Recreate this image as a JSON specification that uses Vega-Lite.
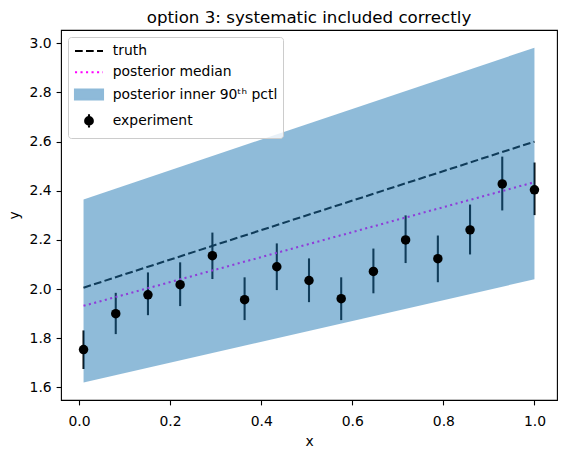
{
  "$schema": "https://vega.github.io/schema/vega-lite/v6.json",
  "autosize": {"type": "none"},
  "padding": {"left": 61, "top": 30, "right": 10, "bottom": 53},
  "width": 496,
  "height": 370,
  "background": "white",
  "title": {"text": "option 3: systematic included correctly", "fontSize": 16.67, "font": "DejaVu Sans", "fontWeight": "normal", "color": "black", "anchor": "middle", "frame": "group", "offset": -10, "baseline": "alphabetic"},
  "datasets": {
    "points": [
      {"x": 0.01, "y": 1.754, "lo": 1.675, "hi": 1.832},
      {"x": 0.0807, "y": 1.900, "lo": 1.817, "hi": 1.985},
      {"x": 0.1514, "y": 1.977, "lo": 1.894, "hi": 2.068},
      {"x": 0.2221, "y": 2.018, "lo": 1.931, "hi": 2.109},
      {"x": 0.2929, "y": 2.136, "lo": 2.041, "hi": 2.230},
      {"x": 0.3636, "y": 1.957, "lo": 1.874, "hi": 2.048},
      {"x": 0.4343, "y": 2.091, "lo": 1.996, "hi": 2.186},
      {"x": 0.5050, "y": 2.035, "lo": 1.947, "hi": 2.125},
      {"x": 0.5757, "y": 1.961, "lo": 1.874, "hi": 2.048},
      {"x": 0.6464, "y": 2.072, "lo": 1.983, "hi": 2.165},
      {"x": 0.7171, "y": 2.200, "lo": 2.106, "hi": 2.300},
      {"x": 0.7879, "y": 2.124, "lo": 2.028, "hi": 2.218},
      {"x": 0.8586, "y": 2.241, "lo": 2.141, "hi": 2.344},
      {"x": 0.9293, "y": 2.428, "lo": 2.320, "hi": 2.539},
      {"x": 1.0, "y": 2.404, "lo": 2.301, "hi": 2.515}
    ],
    "curves": [
      {"x": 0.01, "truth": 2.006, "median": 1.932, "lo": 1.620, "hi": 2.365},
      {"x": 1.0, "truth": 2.600, "median": 2.435, "lo": 2.040, "hi": 2.982}
    ]
  },
  "layer": [
    {
      "data": {"name": "points"},
      "mark": {"type": "rule", "strokeWidth": 2.08},
      "encoding": {
        "x": {"field": "x", "type": "quantitative", "scale": {"domain": [-0.0395, 1.0495], "nice": false, "zero": false},
              "axis": {"title": "x", "values": [0, 0.2, 0.4, 0.6, 0.8, 1.0], "format": ".1f", "labelPadding": 9.9}},
        "y": {"field": "lo", "type": "quantitative", "scale": {"domain": [1.549, 3.054], "nice": false, "zero": false},
              "axis": {"title": "y", "values": [1.6, 1.8, 2.0, 2.2, 2.4, 2.6, 2.8, 3.0], "format": ".1f", "titlePadding": 8}},
        "y2": {"field": "hi"},
        "color": {"datum": "experiment", "type": "nominal",
          "scale": {"domain": ["truth", "posterior median", "posterior inner 90ᵗʰ pctl", "experiment"], "range": ["black", "#ff00ff", "#1f77b4", "black"]},
          "legend": {
            "title": null, "orient": "top-left", "offset": 7, "padding": 5.5,
            "strokeColor": "#cccccc", "fillColor": "rgba(255,255,255,0.8)", "cornerRadius": 3,
            "labelFont": "DejaVu Sans", "labelFontSize": 13.9, "labelColor": "black", "labelLimit": 0,
            "symbolSize": 196, "labelOffset": 22.3, "rowPadding": 5.3,
            "encode": {"symbols": {"update": {
              "shape": {"signal": "datum.index <= 1 ? 'M-1,0H3' : datum.index == 2 ? 'M-1,-0.71H3V0.71H-1Z' : 'M1,-0.95V0.95M0.45,0A0.55,0.55 0 1,0 1.55,0A0.55,0.55 0 1,0 0.45,0'"},
              "fill": {"signal": "datum.index == 2 ? '#1f77b4' : datum.index == 3 ? 'black' : 'transparent'"},
              "stroke": {"signal": "datum.index == 0 ? 'black' : datum.index == 1 ? '#ff00ff' : datum.index == 3 ? 'black' : 'transparent'"},
              "strokeDash": {"signal": "datum.index == 0 ? [7.7, 3.3] : datum.index == 1 ? [2.08, 3.43] : []"},
              "strokeWidth": {"value": 2.08},
              "opacity": {"signal": "datum.index == 2 ? 0.5 : 1"},
              "fillOpacity": {"value": 1},
              "strokeOpacity": {"value": 1},
              "size": {"value": 196}
            }}}
          }}
      }
    },
    {
      "data": {"name": "curves"},
      "mark": {"type": "line", "strokeWidth": 2.08, "strokeDash": [7.7, 3.3], "strokeCap": "butt"},
      "encoding": {
        "x": {"field": "x", "type": "quantitative", "title": "x"},
        "y": {"field": "truth", "type": "quantitative", "title": "y"},
        "color": {"datum": "truth", "type": "nominal"}
      }
    },
    {
      "data": {"name": "curves"},
      "mark": {"type": "line", "strokeWidth": 2.08, "strokeDash": [2.08, 3.43], "strokeCap": "butt"},
      "encoding": {
        "x": {"field": "x", "type": "quantitative", "title": "x"},
        "y": {"field": "median", "type": "quantitative", "title": "y"},
        "color": {"datum": "posterior median", "type": "nominal"}
      }
    },
    {
      "data": {"name": "curves"},
      "mark": {"type": "area", "opacity": 0.5},
      "encoding": {
        "x": {"field": "x", "type": "quantitative", "title": "x"},
        "y": {"field": "lo", "type": "quantitative", "title": "y"},
        "y2": {"field": "hi"},
        "color": {"datum": "posterior inner 90ᵗʰ pctl", "type": "nominal"}
      }
    },
    {
      "data": {"name": "points"},
      "mark": {"type": "point", "filled": true, "size": 90, "opacity": 1},
      "encoding": {
        "x": {"field": "x", "type": "quantitative", "title": "x"},
        "y": {"field": "y", "type": "quantitative", "title": "y"},
        "color": {"datum": "experiment", "type": "nominal"}
      }
    }
  ],
  "config": {
    "view": {"stroke": "black", "strokeWidth": 1.1},
    "axis": {
      "domain": false, "grid": false,
      "ticks": true, "tickColor": "black", "tickSize": 4.9, "tickWidth": 1.1,
      "labelFont": "DejaVu Sans", "labelFontSize": 13.9, "labelColor": "black", "labelPadding": 4.9,
      "titleFont": "DejaVu Sans", "titleFontSize": 13.9, "titleFontWeight": "normal", "titleColor": "black", "titlePadding": 6
    }
  }
}
